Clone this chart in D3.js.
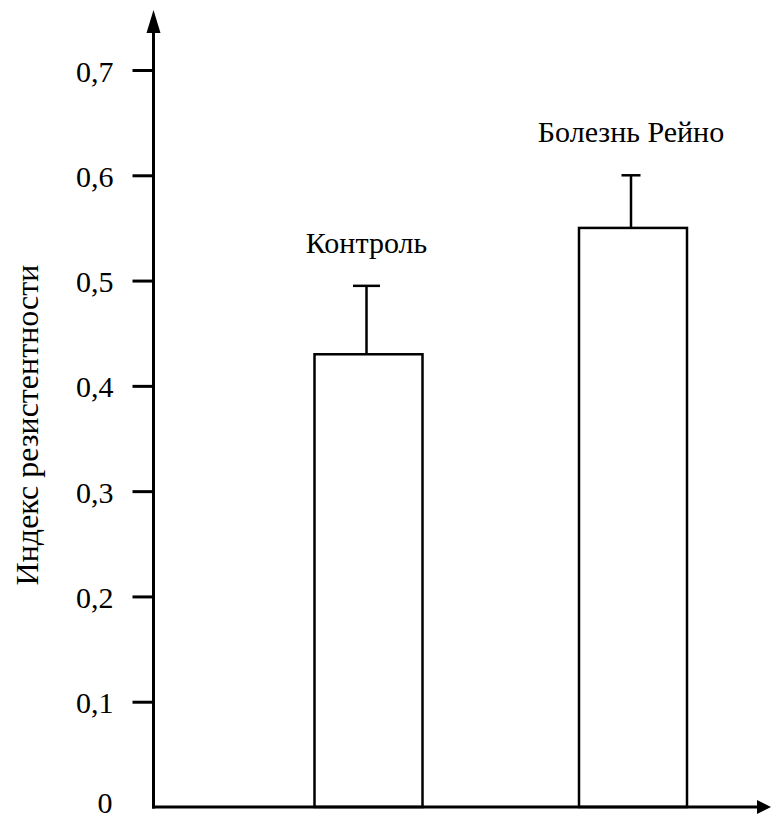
<!DOCTYPE html>
<html><head><meta charset="utf-8">
<script src="https://cdn.jsdelivr.net/npm/d3@7"></script>
</head><body style="margin:0">
<svg id="c" width="771" height="815" style="display:block;background:#fff"></svg>
<script>
const categories = ["Контроль", "Болезнь Рейно"];
const means = [0.43, 0.55];
const errors = [0.065, 0.05];
const tickValues = [0, 0.1, 0.2, 0.3, 0.4, 0.5, 0.6, 0.7];
const tickLabels = ["0", "0,1", "0,2", "0,3", "0,4", "0,5", "0,6", "0,7"];
const yTitle = "Индекс резистентности";

const FONT = '"Liberation Serif", "Times New Roman", Tinos, serif';
const styleText = (sel, size = 30) => sel.attr("font-family", "Liberation Serif").attr("font-size", size)
  .style("font-family", FONT).style("font-size", size + "px").attr("fill", "#000");

const svg = d3.select("#c");
const y = d3.scaleLinear().domain([0, 0.7]).range([807, 70]);
const x = d3.scalePoint().domain(categories).range([368.5, 633]);
const barW = 108;
const capW = [27, 19];
const ax = 153.5;

// bars
svg.selectAll("rect.bar").data(categories).join("rect")
  .attr("x", d => x(d) - barW/2).attr("width", barW)
  .attr("y", (d,i) => y(means[i])).attr("height", (d,i) => y(0) - y(means[i]))
  .attr("fill", "#fff").attr("stroke", "#000").attr("stroke-width", 2.5);

// error bars and labels
categories.forEach((c, i) => {
  const cx = x(c) - 2;
  svg.append("line").attr("x1", cx).attr("x2", cx)
    .attr("y1", y(means[i])).attr("y2", y(means[i] + errors[i]))
    .attr("stroke", "#000").attr("stroke-width", 2.5);
  svg.append("line").attr("x1", cx - capW[i]/2).attr("x2", cx + capW[i]/2)
    .attr("y1", y(means[i] + errors[i])).attr("y2", y(means[i] + errors[i]))
    .attr("stroke", "#000").attr("stroke-width", 2.5);
  svg.append("text").attr("x", cx).attr("y", y(means[i] + errors[i]) - 33)
    .attr("text-anchor", "middle").call(styleText).text(c);
});

// y axis
const yAxis = d3.axisLeft(y).tickValues(tickValues.slice(1)).tickSize(21)
  .tickFormat((d) => tickLabels[tickValues.indexOf(d)]).tickPadding(19);
const g = svg.append("g").attr("transform", `translate(${ax},0)`).call(yAxis);
g.attr("font-family", "Liberation Serif").attr("font-size", 30);
g.select(".domain").remove();
g.selectAll(".tick line").attr("stroke", "#000").attr("stroke-width", 3);
g.selectAll(".tick text").call(styleText).attr("dy", "0.37em");
svg.append("text").attr("x", ax - 41).attr("y", y(0)).attr("dy", "0.2em")
  .attr("text-anchor", "end").call(styleText).text(tickLabels[0]);

// axis lines with arrows
svg.append("line").attr("x1", ax).attr("x2", ax).attr("y1", y(0) + 1.5).attr("y2", 28)
  .attr("stroke", "#000").attr("stroke-width", 3);
svg.append("path").attr("d", `M${ax},10 L${ax-7},33 L${ax+7},33 Z`).attr("fill", "#000");
svg.append("line").attr("x1", ax - 1.5).attr("x2", 762).attr("y1", y(0)).attr("y2", y(0))
  .attr("stroke", "#000").attr("stroke-width", 3);
svg.append("path").attr("d", `M771,${y(0)} L757,${y(0)-7} L757,${y(0)+7} Z`).attr("fill", "#000");

// y title
svg.append("text").attr("transform", `translate(38,425) rotate(-90)`)
  .attr("text-anchor", "middle").call(styleText, 32).text(yTitle);
</script>
</body></html>
